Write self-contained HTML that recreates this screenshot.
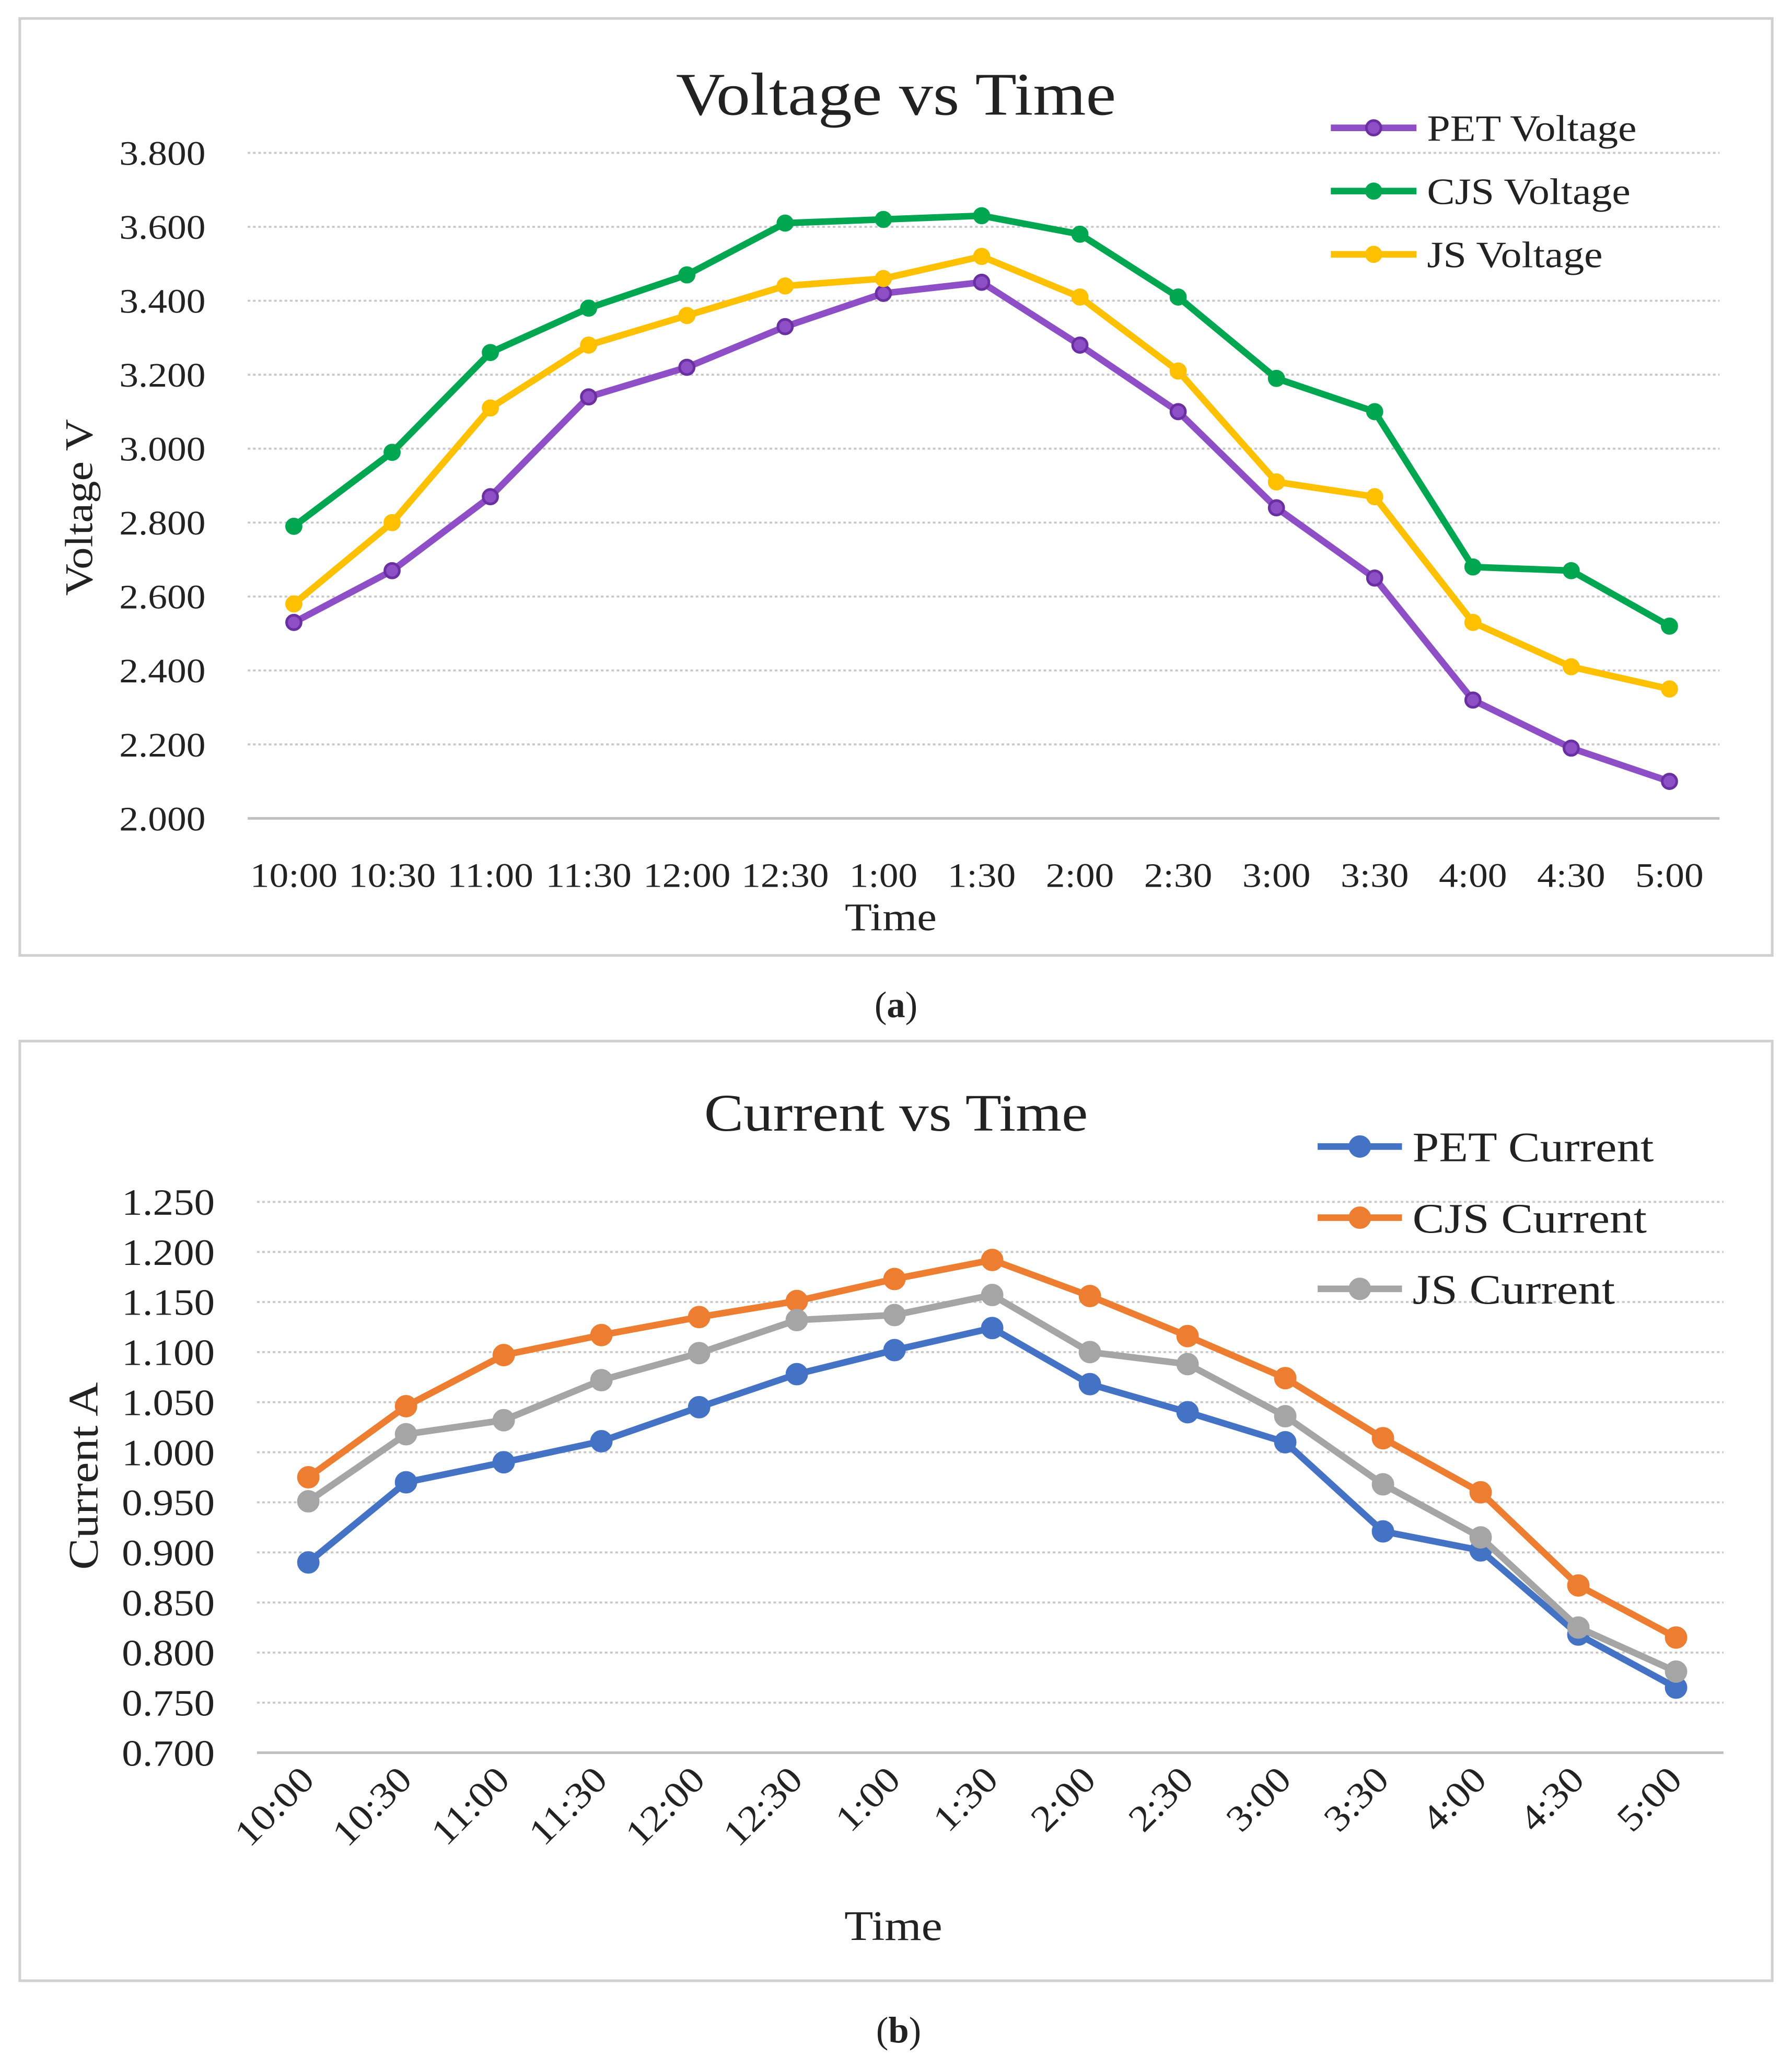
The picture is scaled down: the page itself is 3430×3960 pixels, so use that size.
<!DOCTYPE html>
<html><head><meta charset="utf-8"><style>html,body{margin:0;padding:0;background:#fff}svg{display:block}text{font-family:"Liberation Serif",serif;fill:#222}</style></head>
<body>
<svg id="s" width="3430" height="3960" viewBox="0 0 1360 1570" preserveAspectRatio="none" xmlns="http://www.w3.org/2000/svg">
<rect x="15" y="14" width="1330" height="711" fill="#fff" stroke="#d0d0d0" stroke-width="2"/>
<rect x="15" y="790" width="1330" height="713" fill="#fff" stroke="#d0d0d0" stroke-width="2"/>
<g id="ga"></g>
<g id="gb"></g>
<text x="680" y="772" text-anchor="middle" font-size="28">(<tspan font-weight="bold">a</tspan>)</text>
<text x="682" y="1550" text-anchor="middle" font-size="28">(<tspan font-weight="bold">b</tspan>)</text>
</svg>
<script>
const categories=["10:00","10:30","11:00","11:30","12:00","12:30","1:00","1:30","2:00","2:30","3:00","3:30","4:00","4:30","5:00"];
const petVoltage=[2.53,2.67,2.87,3.14,3.22,3.33,3.42,3.45,3.28,3.10,2.84,2.65,2.32,2.19,2.10];
const cjsVoltage=[2.79,2.99,3.26,3.38,3.47,3.61,3.62,3.63,3.58,3.41,3.19,3.10,2.68,2.67,2.52];
const jsVoltage=[2.58,2.80,3.11,3.28,3.36,3.44,3.46,3.52,3.41,3.21,2.91,2.87,2.53,2.41,2.35];
const voltageTicks=[2.0,2.2,2.4,2.6,2.8,3.0,3.2,3.4,3.6,3.8];
const petCurrent=[0.890,0.970,0.990,1.011,1.045,1.078,1.102,1.124,1.068,1.040,1.010,0.921,0.902,0.818,0.765];
const cjsCurrent=[0.975,1.046,1.097,1.117,1.135,1.151,1.173,1.192,1.156,1.116,1.074,1.014,0.960,0.867,0.815];
const jsCurrent=[0.951,1.018,1.032,1.072,1.099,1.132,1.137,1.157,1.100,1.088,1.036,0.968,0.915,0.825,0.781];
const currentTicks=[0.70,0.75,0.80,0.85,0.90,0.95,1.00,1.05,1.10,1.15,1.20,1.25];
const NS="http://www.w3.org/2000/svg";
function mk(p,t,a,txt){const e=document.createElementNS(NS,t);for(const k in a)e.setAttribute(k,a[k]);if(txt!==undefined)e.textContent=txt;p.appendChild(e);return e;}
function widen(e,f){const w=e.getComputedTextLength();if(w>0){e.setAttribute('textLength',w*f);e.setAttribute('lengthAdjust','spacingAndGlyphs');}}
function chart(g,o){
 const y=v=>o.y0+(v-o.vmin)/(o.vmax-o.vmin)*(o.y1-o.y0);
 const x=i=>o.x0+i*(o.x1-o.x0)/(categories.length-1);
 o.ticks.forEach((t,i)=>{
  const l=mk(g,'line',{x1:o.gl0,x2:o.gl1,y1:y(t),y2:y(t),stroke:i==0?'#bfbfbf':'#c8c8c8','stroke-width':i==0?2:1.5,'stroke-dasharray':i==0?'':'2 2'});
  
  
  const tx=mk(g,'text',{x:o.tickX,y:y(t)+o.tfs*0.35,'text-anchor':'end','font-size':o.tfs},t.toFixed(3));
  
  
  widen(tx,1.12);
 });
 categories.forEach((c,i)=>{
  let tx;
  if(o.rot) tx=mk(g,'text',{x:x(i)+6,y:o.xly,'text-anchor':'end','font-size':o.tfs,transform:`rotate(-45 ${x(i)+6} ${o.xly})`},c);
  else tx=mk(g,'text',{x:x(i),y:o.xly,'text-anchor':'middle','font-size':o.tfs},c);
  
  
  widen(tx,1.12);
 });
 o.series.forEach((s,k)=>{
  const pl=mk(g,'polyline',{points:s.d.map((v,i)=>x(i)+','+y(v)).join(' '),fill:'none',stroke:s.c,'stroke-width':o.lw,'stroke-linejoin':'round'});
  
  
  s.d.forEach((v,i)=>{const m=mk(g,'circle',{cx:x(i),cy:y(v),r:o.mr,fill:s.c,stroke:s.mc||s.c,'stroke-width':2});
   
   });
  const ly=o.ly0+k*o.ldy;
  const ll=mk(g,'line',{x1:o.lx0,x2:o.lx1,y1:ly,y2:ly,stroke:s.c,'stroke-width':o.lw});
  
  
  const lm=mk(g,'circle',{cx:(o.lx0+o.lx1)/2,cy:ly,r:o.mr,fill:s.c,stroke:s.mc||s.c,'stroke-width':2});
  
  
  const lt=mk(g,'text',{x:o.lx1+8,y:ly+o.lfs*0.35,'font-size':o.lfs},s.n);
  
  
  widen(lt,1.13);
 });
 const t=mk(g,'text',{x:o.tx,y:o.ty,'text-anchor':'middle','font-size':o.tsz},o.title);
 
 
 widen(t,1.12);
 const xt=mk(g,'text',{x:o.xtx,y:o.xty,'text-anchor':'middle','font-size':o.afs},'Time');
 
 
 widen(xt,1.12);
 const yt=mk(g,'text',{x:o.ytx,y:o.yty,'text-anchor':'middle','font-size':o.afs,transform:`rotate(-90 ${o.ytx} ${o.yty})`},o.ylab);
 
 
 widen(yt,1.12);
}
chart(document.getElementById('ga'),{vmin:2.0,vmax:3.8,y0:621,y1:116,x0:223,x1:1267,gl0:188,gl1:1305,ticks:voltageTicks,tickX:156,tfs:26,xly:673,rot:false,lw:5,mr:5.5,
 series:[{d:petVoltage,c:'#8e4fc6',mc:'#6a2fa0',n:'PET Voltage'},{d:cjsVoltage,c:'#00a650',n:'CJS Voltage'},{d:jsVoltage,c:'#ffc000',n:'JS Voltage'}],
 lx0:1010,lx1:1075,ly0:97,ldy:48,lfs:28,tx:680,ty:87,tsz:46,title:'Voltage vs Time',xtx:676,xty:706,afs:30,ytx:70,yty:385,ylab:'Voltage V'});
chart(document.getElementById('gb'),{vmin:0.70,vmax:1.25,y0:1330,y1:912,x0:234,x1:1272,gl0:195,gl1:1308,ticks:currentTicks,tickX:163,tfs:28,xly:1352,rot:true,lw:5,mr:7.5,
 series:[{d:petCurrent,c:'#4472c4',n:'PET Current'},{d:cjsCurrent,c:'#ed7d31',n:'CJS Current'},{d:jsCurrent,c:'#a5a5a5',n:'JS Current'}],
 lx0:1000,lx1:1064,ly0:870,ldy:54,lfs:32,tx:680,ty:858,tsz:40,title:'Current vs Time',xtx:678,xty:1472,afs:32,ytx:74,yty:1120,ylab:'Current A'});
</script>
</body></html>
